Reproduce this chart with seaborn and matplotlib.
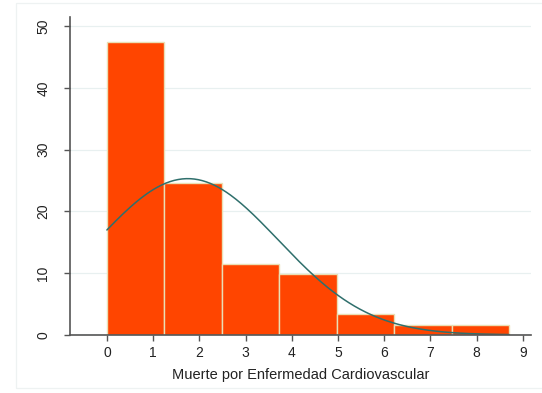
import numpy as np
import pandas as pd
import seaborn as sns
from matplotlib import pyplot as plt
from matplotlib.patches import Rectangle

# histogram bins (percent of observations per bin)
bin_edges = [0.0, 1.243, 2.486, 3.729, 4.971, 6.214, 7.457, 8.7]
bin_centers = [0.621, 1.864, 3.107, 4.350, 5.593, 6.836, 8.079]
percents = [47.5, 24.6, 11.5, 9.8, 3.3, 1.6, 1.6]

# normal overlay
curve_mean = 1.75
curve_sd = 1.96

x_ticks = [0, 1, 2, 3, 4, 5, 6, 7, 8, 9]
y_ticks = [0, 10, 20, 30, 40, 50]
x_label = "Muerte por Enfermedad Cardiovascular"

sns.set_style("white")
plt.rcParams['font.family'] = ['Liberation Sans', 'DejaVu Sans']

fig = plt.figure(figsize=(5.42, 3.93), dpi=100)
ax = fig.add_axes([0.129, 0.148, 0.851, 0.809])

# faint graph-region frame, Stata style (open on the right)
fig.patches.append(Rectangle((0.03, 0.0127), 1.0, 0.9793, transform=fig.transFigure,
                             fill=False, edgecolor='#eef2f2', linewidth=0.9))

ax.yaxis.grid(True, color='#e8f0f0', linewidth=0.9)
ax.set_axisbelow(True)

df = pd.DataFrame({"x": bin_centers, "pct": percents})
sns.histplot(data=df, x="x", weights="pct", bins=bin_edges, ax=ax,
             color='#ff4500', alpha=1, edgecolor='#eadfb4', linewidth=1.0)

width = bin_edges[1] - bin_edges[0]
xs = np.linspace(bin_edges[0], bin_edges[-1], 300)
ys = 100 * width * np.exp(-0.5 * ((xs - curve_mean) / curve_sd) ** 2) / (curve_sd * np.sqrt(2 * np.pi))
sns.lineplot(x=xs, y=ys, ax=ax, color='#2f6f6c', linewidth=1.1)

ax.set_xlim(-0.8, 9.18)
ax.set_ylim(0, 51.5)
ax.set_xticks(x_ticks)
ax.set_yticks(y_ticks)
ax.set_yticklabels([str(v) for v in y_ticks], rotation=90, va='center')
ax.tick_params(axis='both', direction='out', length=4, width=1, color='#555555',
               labelsize=10, labelcolor='#222222', pad=4)
ax.tick_params(axis='x', bottom=True)
ax.tick_params(axis='y', left=True, pad=10)
ax.set_xlabel(x_label, fontsize=10.5, color='#222222', labelpad=6)
ax.set_ylabel("")

for side in ('top', 'right'):
    ax.spines[side].set_visible(False)
for side in ('left', 'bottom'):
    ax.spines[side].set_color('#555555')
    ax.spines[side].set_linewidth(1.2)

fig.savefig("out.png", dpi=100)
